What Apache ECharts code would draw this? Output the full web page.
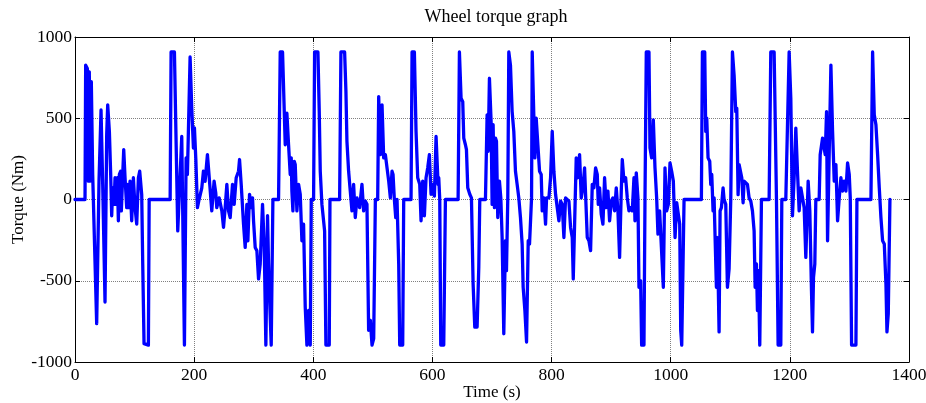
<!DOCTYPE html>
<html>
<head>
<meta charset="utf-8">
<script src="https://cdn.jsdelivr.net/npm/echarts@6/dist/echarts.min.js"></script>
<style>html,body{margin:0;padding:0;background:#fff}#c{width:926px;height:403px}</style>
</head>
<body>
<div id="c"></div>
<script>
// Time (s)
const timeS = [
0,16.8,17.9,20.7,22.4,24,25.2,27.4,29.7,31.9,33.6,36.4,40.3,43.7,46.5,50.4,53.2,54.9,57.7,59.9,61.6,63.3,65.5,67.2,68.9,71.1,72.8,74.5,76.7,77.8,80.1,81.8,84,86.8,88.5,90.2,92.4,95.2,98,100.8,103.6,106.4,108.6,112,113.7,115.9,123.2,124.5,
159.7,161.3,166.9,172.5,179.2,183.7,186.5,188.7,193.2,196,198.8,200.5,202.8,205.5,208.3,212.8,215.6,218.4,222.3,225,229.6,233.5,236.3,238,242,245,
246.5,249.3,252.1,254.9,257.7,260.5,264.4,267.2,270.6,274.5,276.2,279,282.9,285.7,288.5,290.2,293,295.8,298,299.7,302.5,305.3,308.1,310.9,314.8,317.6,320.4,323.2,324.9,326.6,329.4,332.2,341.7,344.5,348.4,352.9,355.7,358.5,361.3,363,364.1,365.8,368,
369.7,372.5,375.3,378.1,380.9,383.7,386.5,389.3,392.1,394.9,396.6,400.5,402.2,407.8,410,411.7,414.5,419,421.2,426.8,428,444.2,446.4,452.6,454.8,456.5,459.3,462.1,464.9,467.7,470.5,473.3,477.8,481.7,484.5,487.3,490.1,492.9,
495.8,498.6,501.4,504.2,508.1,509.8,512.6,515.4,518.2,521,523.8,526.6,529.4,532.2,533.9,536.1,538.4,540.6,543.4,545.1,550.1,551.8,564.1,565.8,569.7,572.5,575.3,578.7,580.9,583.7,586.5,589.3,592.1,594.9,597.7,600.5,603.3,606.1,609.5,610.6,612.3,614,619,621.8,
643.1,645.3,648.1,650.9,652.6,655.4,657.1,659.3,662.7,665.5,668.3,671.1,675,677.8,679.5,689,691.8,693.5,695.7,698.5,700.2,701.9,704.1,705.8,707.5,709.7,712.5,714.8,717,719.8,722.6,724.3,726.5,728.2,731,733.8,736.6,739.4,742.2,745,747.8,750.6,752.3,755.2,758,760.8,763,766.4,
767.5,770.3,772,774.2,777,779.8,782.6,784.3,787.1,789.9,791.6,795.5,798.3,801.1,803.9,806.7,809.5,812.3,815.1,817.9,820.7,823.5,826.3,829.1,831.9,834.7,836.4,839.2,841.4,844.2,847,849.8,852.6,855.4,857.1,859.9,862.7,865.5,868.3,871.1,873.9,
876.7,878.4,880.6,883.4,886.2,889,891.8,894.6,897.4,900.2,903,905.8,908.6,911.4,914.2,917,918.7,921.5,924.3,927.1,929.9,932.7,935.5,938.3,940,942.2,945,946.7,949.5,951.2,955.1,956.8,959,963.5,965.2,968,970.8,973.6,976.4,978.6,981.4,984.2,987.6,990.4,993.2,996,998.8,
1001.6,1004.4,1007.3,1010.1,1012.9,1015.1,1016.8,1018.5,1021.3,1022.4,1051.5,1053.2,1057.1,1058.8,1060.5,1062.7,1065.5,1067.2,1068.9,1071.1,1072.8,1074.5,1076.7,1078.4,1081.2,1082.9,1085.1,1087.9,1089.6,1092.4,1095.2,1098,1100.8,1103.6,1106.4,1109.2,1110.9,1113.1,1114.8,1117.6,1119.3,1121.5,1123.2,1126,1128.8,1131.6,1134.4,1137.2,1140,1141.7,1143.9,1145.6,1147.3,1149.5,1152.3,1165.2,1168,1173.6,1177.5,1180.3,1184.8,1186.5,1193.2,1198.8,1201.6,1204.4,1207.2,1210,1212.8,1215.6,1218.4,1221.2,1224,1226.8,1228.5,1230.7,1233.5,1236.3,1238,1239.7,1241.9,1243.6,1249.2,
1250.9,1252.1,1254.9,1257.7,1259.4,1261.6,1263.3,1266.1,1268.9,1271.7,1274.5,1277.3,1280.1,1282.9,1285.7,1288.5,1291.3,1294.1,1296.9,1299.7,1301.4,1303.6,1310.9,1312.6,1336.1,1338.9,1341.7,1344.5,1347.3,1350.1,1352.9,1355.7,1358.5,1361.3,1363,1365.2,1368
];
// Torque (Nm)
const torqueNm = [
0,0,827,806,113,786,113,725,154,-152,-160,-764,113,551,93,-631,400,582,420,154,-100,72,-30,134,-30,134,-131,154,174,-70,154,307,134,-50,93,-50,113,-131,134,-50,-152,134,174,30,-397,-887,-896,0,
0,908,908,-193,388,-896,256,154,877,561,317,441,250,-50,0,70,174,112,276,150,-70,113,40,-50,10,0,
-70,-172,-50,93,-70,-111,93,-30,134,174,246,93,-152,-295,-30,-254,32,-50,10,-131,-295,-315,-489,-397,-30,-274,-896,-100,-397,-601,-896,0,0,908,908,337,531,337,154,256,51,-70,235,
215,-70,93,32,-254,-152,-663,-896,-683,-896,0,0,908,908,541,174,-30,-193,-896,-896,0,0,908,908,664,358,174,52,-70,93,-111,10,-50,93,-70,-10,-30,-805,
-744,-896,-856,0,0,633,276,582,256,276,276,113,10,174,154,0,-111,0,-397,-896,-896,0,0,908,908,419,134,93,-131,113,-100,134,195,276,32,93,21,388,93,134,0,-896,-896,0,
0,908,623,602,378,337,307,72,32,10,-520,-785,-785,-418,0,0,521,297,746,480,-30,460,-50,378,358,-111,113,10,-234,-826,-254,-438,10,908,827,541,419,174,93,10,-111,-274,-540,-683,-877,-254,-274,10,
908,908,256,500,490,174,154,-70,10,-152,10,10,134,419,174,32,-50,-131,-10,-30,-234,10,10,-10,-172,-234,-489,-70,256,134,276,10,72,195,32,-234,-254,-315,93,72,195,
154,-30,72,-91,-152,134,-50,52,-131,-10,10,-70,72,-70,-356,52,246,113,134,10,-70,-50,-70,134,-131,164,10,-540,-500,-896,-896,0,908,908,317,256,490,195,10,-213,-70,-70,-540,195,-70,-30,225,
174,113,-234,-20,-30,-152,-805,-896,-896,0,0,908,908,419,500,256,235,93,154,-70,10,-234,-540,-234,-815,-70,-50,72,0,-30,-540,-427,0,908,766,541,561,30,215,225,134,-20,113,113,93,10,-10,-70,-193,-540,-397,-683,-438,-896,0,0,908,908,10,-896,-896,0,0,908,623,-100,134,439,174,-70,72,62,-50,-356,-152,113,-70,-560,-815,-479,-397,0,0,
276,276,378,378,276,541,-254,297,827,419,113,215,-131,10,134,52,113,52,225,154,10,-896,-896,0,0,908,521,460,276,72,-111,-254,-274,-520,-815,-703,0
];
const xTicks = [0, 1400, 200];
const yTicks = [-1000, 1000, 500];

const data = timeS.map((t, i) => [t, torqueNm[i]]);
const serif = '"Liberation Serif", "DejaVu Serif", serif';
const chart = echarts.init(document.getElementById('c'), null, {renderer: 'canvas'});
const plain = v => String(v);
const axisCommon = {
  axisLine: {show: true, onZero: false, lineStyle: {color: '#000', width: 1}},
  axisTick: {show: true, inside: true, length: 5, lineStyle: {color: '#000'}},
};
chart.setOption({
  animation: false,
  backgroundColor: '#fff',
  title: {
    text: 'Wheel torque graph', left: 491, top: 3, textAlign: 'center',
    textStyle: {fontFamily: serif, fontSize: 18, fontWeight: 'normal', color: '#000'}
  },
  grid: {left: 75, right: 17, top: 37, bottom: 41, containLabel: false, outerBoundsMode: 'none'},
  xAxis: [{
    type: 'value', min: xTicks[0], max: xTicks[1], interval: xTicks[2],
    name: 'Time (s)', nameLocation: 'middle', nameGap: 22, nameMoveOverlap: false,
    nameTextStyle: {fontFamily: serif, fontSize: 17, color: '#000'},
    axisLabel: {fontFamily: serif, fontSize: 17.5, color: '#000', margin: 4, formatter: plain},
    splitLine: {show: true, lineStyle: {type: 'dotted', color: '#808080', width: 1}},
    ...axisCommon
  }, {
    type: 'value', position: 'top', min: xTicks[0], max: xTicks[1], interval: xTicks[2],
    axisLabel: {show: false}, splitLine: {show: false}, ...axisCommon
  }],
  yAxis: [{
    type: 'value', min: yTicks[0], max: yTicks[1], interval: yTicks[2],
    name: 'Torque (Nm)', nameLocation: 'middle', nameGap: 48, nameMoveOverlap: false,
    nameTextStyle: {fontFamily: serif, fontSize: 17, color: '#000'},
    axisLabel: {fontFamily: serif, fontSize: 17.5, color: '#000', margin: 3, formatter: plain},
    splitLine: {show: true, lineStyle: {type: 'dotted', color: '#808080', width: 1}},
    ...axisCommon
  }, {
    type: 'value', position: 'right', min: yTicks[0], max: yTicks[1], interval: yTicks[2],
    axisLabel: {show: false}, splitLine: {show: false}, ...axisCommon
  }],
  series: [{
    type: 'line', data: data, xAxisIndex: 0, yAxisIndex: 0,
    showSymbol: false, symbol: 'none',
    lineStyle: {color: '#0000ff', width: 3.3, join: 'round', cap: 'round'},
    z: 5
  }]
});
</script>
</body>
</html>
